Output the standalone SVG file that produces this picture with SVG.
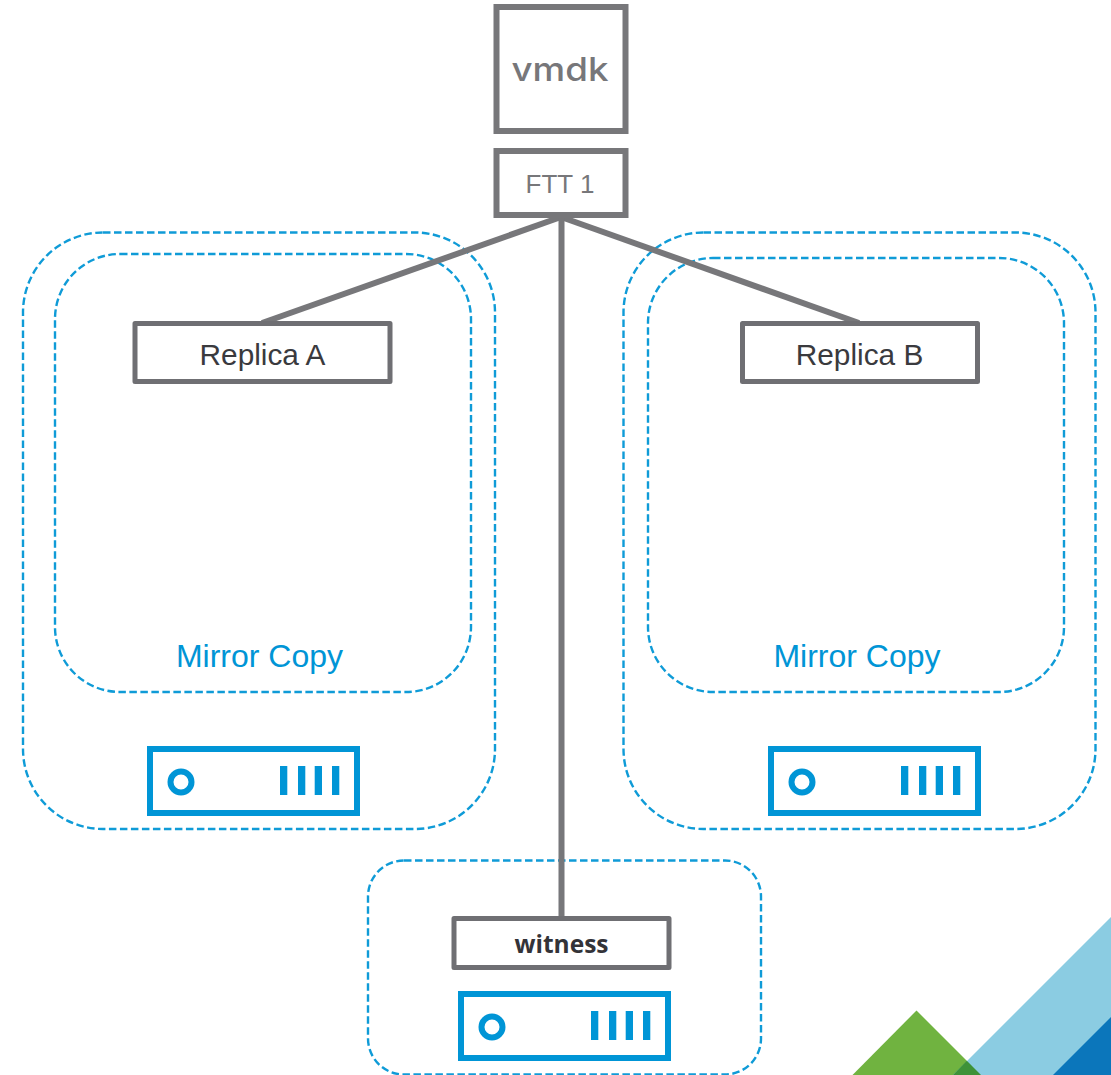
<svg xmlns="http://www.w3.org/2000/svg" width="1111" height="1075" viewBox="0 0 1111 1075">
<style>
.dash{fill:none;stroke:#0f9bd7;stroke-width:2.4;stroke-dasharray:7.5 3.5}
.box{fill:#fff;stroke:#77777a;stroke-width:6}
.node{fill:#fff;stroke:#6f6f73;stroke-width:5;stroke-linejoin:round}
.conn{stroke:#77777a;stroke-width:6;fill:none}
.srv{fill:none;stroke:#0095d6;stroke-width:6}
.bar{fill:#0095d6}
text{font-family:"Liberation Sans",Arial,sans-serif;text-anchor:middle}
.lbl{font-size:29.800px;fill:#3a3a3e}
.mir{font-size:32px;fill:#0095d6}
</style>
<defs>
<g id="server">
<rect class="srv" x="3" y="3" width="207" height="64"/>
<circle class="srv" cx="34" cy="36" r="10.5"/>
<rect class="bar" x="133" y="20" width="7.3" height="29"/>
<rect class="bar" x="151" y="20" width="7.3" height="29"/>
<rect class="bar" x="167.7" y="20" width="7.3" height="29"/>
<rect class="bar" x="185" y="20" width="7.3" height="29"/>
</g>
</defs>
<g id="logo">
<polygon points="916.5,1010.5 852.5,1075 981,1075" fill="#70b340"/>
<polygon points="1111,917 953,1075 1111,1075" fill="#8bcce2"/>
<polygon points="966.8,1060.8 953,1075 981,1075" fill="#3e9238"/>
<polygon points="1111,1017 1053,1075 1111,1075" fill="#0b76bb"/>
</g>
<g id="host-left">
<rect class="dash" x="23" y="232.500" width="472" height="596.500" rx="80" ry="80"/>
<use href="#server" x="147" y="746"/>
</g>
<g id="mirror-left">
<rect class="dash" x="55" y="254" width="416" height="438" rx="65" ry="65"/>
<text class="mir" x="259.500" y="667">Mirror Copy</text>
</g>
<g id="host-right">
<rect class="dash" x="623.500" y="232.500" width="472" height="596.500" rx="80" ry="80"/>
<use href="#server" x="768" y="746"/>
</g>
<g id="mirror-right">
<rect class="dash" x="648" y="258" width="416" height="434" rx="65" ry="65"/>
<text class="mir" x="857" y="667">Mirror Copy</text>
</g>
<g id="host-witness">
<rect class="dash" x="368" y="860.500" width="393" height="214" rx="36" ry="36"/>
<use href="#server" x="458" y="991"/>
</g>
<g id="connectors">
<line class="conn" x1="561" y1="217" x2="262" y2="323"/>
<line class="conn" x1="561" y1="217" x2="859" y2="323"/>
<line class="conn" x1="561.500" y1="216" x2="561.500" y2="918"/>
</g>
<g id="vmdk">
<rect class="box" x="496.500" y="7" width="129" height="124"/>
<text x="560" y="81" font-size="33" font-weight="450" fill="#77777a" style="font-family:Inter,'Noto Sans',sans-serif" textLength="97" lengthAdjust="spacingAndGlyphs">vmdk</text>
</g>
<g id="ftt">
<rect class="box" x="496.500" y="151" width="129" height="64"/>
<text x="560" y="193" font-size="26" fill="#77777a">FTT 1</text>
</g>
<g id="replica-a">
<rect class="node" x="135" y="323.500" width="255" height="58"/>
<text class="lbl" x="262.500" y="365">Replica A</text>
</g>
<g id="replica-b">
<rect class="node" x="742.500" y="323.500" width="235" height="58"/>
<text class="lbl" x="859.500" y="365">Replica B</text>
</g>
<g id="witness">
<rect class="node" x="454" y="918.500" width="215" height="49"/>
<text x="561.500" y="953" font-size="24.500" font-weight="700" fill="#333338" style="font-family:'Open Sans',sans-serif">witness</text>
</g>
</svg>
